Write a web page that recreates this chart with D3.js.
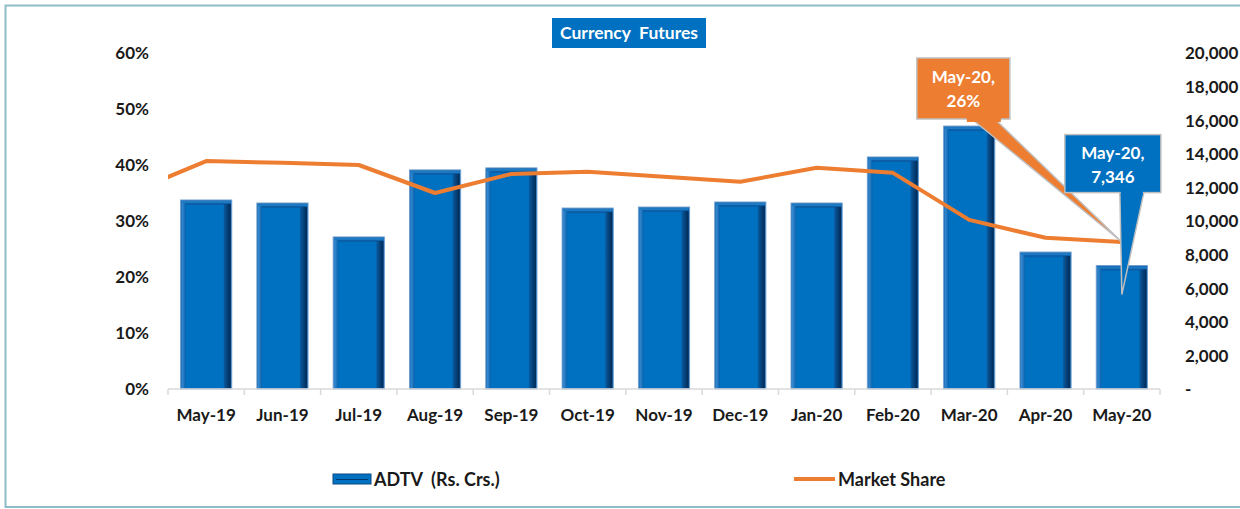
<!DOCTYPE html>
<html>
<head>
<meta charset="utf-8">
<script src="https://cdn.jsdelivr.net/npm/d3@7"></script>
<style>
  html, body { margin: 0; padding: 0; background: #fff; }
  svg { display: block; }
  text { font-family: Lato, "Liberation Sans", sans-serif; font-weight: 700; }
</style>
</head>
<body>
<svg id="chart" width="1240" height="509"></svg>
<script>
// ---- data ----
const categories = ["May-19","Jun-19","Jul-19","Aug-19","Sep-19","Oct-19","Nov-19","Dec-19","Jan-20","Feb-20","Mar-20","Apr-20","May-20"];
const adtv = [11250, 11070, 9050, 13040, 13160, 10770, 10830, 11130, 11070, 13810, 15650, 8150, 7346];
const marketShare = [0.407, 0.404, 0.400, 0.350, 0.384, 0.388, 0.379, 0.370, 0.395, 0.386, 0.302, 0.270, 0.2625];
// previous month (Apr-19) – only its segment into the plot edge is visible
const leadShare = 0.350;
const leftTicks = [0, 0.1, 0.2, 0.3, 0.4, 0.5, 0.6];
const rightTicks = [0, 2000, 4000, 6000, 8000, 10000, 12000, 14000, 16000, 18000, 20000];
const title = "Currency  Futures";
const seriesNames = ["ADTV  (Rs. Crs.)", "Market Share"];
const shareLabel = ["May-20,", "26%"];
const adtvLabel = ["May-20,", "7,346"];

// ---- layout ----
const svg = d3.select("#chart");
const plot = { left: 168, right: 1160, top: 53, bottom: 389 };
const blue = "#0070C0", orange = "#ED7D31";
const fs = 17;

// frame
svg.append("rect").attr("x", 5.5).attr("y", 5.5).attr("width", 1240).attr("height", 501.5)
  .attr("fill", "none").attr("stroke", "#8fbccb").attr("stroke-width", 2);

const x = d3.scaleBand().domain(categories).range([plot.left, plot.right])
  .paddingInner(0.33).paddingOuter(0.165);
const yL = d3.scaleLinear().domain([0, 0.6]).range([plot.bottom, plot.top]);
const yR = d3.scaleLinear().domain([0, 20000]).range([plot.bottom, plot.top]);
const bw = x.bandwidth();
const cx = c => x(c) + bw / 2;

// left axis
const gL = svg.append("g").attr("transform", `translate(${149},0)`)
  .call(d3.axisLeft(yL).tickValues(leftTicks).tickFormat(d3.format(".0%")).tickSize(0).tickPadding(0));
gL.select(".domain").remove();
gL.selectAll("text").attr("font-size", fs).attr("fill", "#1a1a1a").attr("dy", "0.35em");

// right axis
const gR = svg.append("g").attr("transform", `translate(${1185},0)`)
  .call(d3.axisRight(yR).tickValues(rightTicks).tickFormat(d => d === 0 ? "-" : d3.format(",")(d)).tickSize(0).tickPadding(0));
gR.select(".domain").remove();
gR.selectAll("text").attr("font-size", fs).attr("fill", "#1a1a1a").attr("dy", "0.35em");

// bars (bevelled)
const defs = svg.append("defs");
const gradR = defs.append("linearGradient").attr("id", "edgeR").attr("x1", 0).attr("x2", 1);
gradR.append("stop").attr("offset", 0).attr("stop-color", "#0a5aa0");
gradR.append("stop").attr("offset", 1).attr("stop-color", "#012a55");
const gradL = defs.append("linearGradient").attr("id", "edgeL").attr("x1", 0).attr("x2", 1);
gradL.append("stop").attr("offset", 0).attr("stop-color", "#3d8fd6");
gradL.append("stop").attr("offset", 1).attr("stop-color", "#0a63ad");

const bars = svg.append("g").selectAll("g").data(categories).join("g")
  .attr("transform", (c, i) => `translate(${x(c)},${yR(adtv[i])})`);
bars.append("rect").attr("width", bw).attr("height", (c, i) => yR(0) - yR(adtv[i]))
  .attr("fill", "#0b5fa8").attr("stroke", "#6f9fd0").attr("stroke-width", 1);
bars.append("rect").attr("x", 1).attr("y", 1).attr("width", 4)
  .attr("height", (c, i) => Math.max(0, yR(0) - yR(adtv[i]) - 2)).attr("fill", "url(#edgeL)");
bars.append("rect").attr("x", bw - 8).attr("y", 4).attr("width", 7)
  .attr("height", (c, i) => Math.max(0, yR(0) - yR(adtv[i]) - 5)).attr("fill", "url(#edgeR)");
bars.append("rect").attr("x", 5).attr("y", 5).attr("width", bw - 13)
  .attr("height", (c, i) => Math.max(0, yR(0) - yR(adtv[i]) - 6)).attr("fill", blue);
bars.append("rect").attr("x", 1).attr("y", 1).attr("width", bw - 2).attr("height", 2).attr("fill", "#1f7ac4");

// x axis
const gX = svg.append("g").attr("transform", `translate(0,${plot.bottom})`);
gX.append("line").attr("x1", plot.left).attr("x2", plot.right).attr("stroke", "#d9d9d9").attr("stroke-width", 1.5);
const bounds = d3.range(categories.length + 1).map(i => plot.left + i * x.step());
gX.selectAll("line.tick").data(bounds).join("line").attr("class", "tick")
  .attr("x1", d => d).attr("x2", d => d).attr("y1", 0).attr("y2", 6).attr("stroke", "#d9d9d9").attr("stroke-width", 1.5);
gX.selectAll("text").data(categories).join("text")
  .attr("x", c => cx(c)).attr("y", 32).attr("text-anchor", "middle")
  .attr("font-size", fs).attr("fill", "#1a1a1a").text(c => c);

// market share line
defs.append("clipPath").attr("id", "plotClip").append("rect")
  .attr("x", plot.left).attr("y", 0).attr("width", plot.right - plot.left).attr("height", 509);
const linePts = [[cx(categories[0]) - x.step(), yL(leadShare)]]
  .concat(categories.map((c, i) => [cx(c), yL(marketShare[i])]));
svg.append("path").attr("d", d3.line()(linePts)).attr("clip-path", "url(#plotClip)")
  .attr("fill", "none").attr("stroke", orange).attr("stroke-width", 4).attr("stroke-linejoin", "round");

// callouts
const last = categories.length - 1;
const px = cx(categories[last]), py = yL(marketShare[last]);
const barTop = yR(adtv[last]);

// orange callout
const ob = { x0: px - 205, x1: px - 112, y0: py - 184, y1: py - 123 };
svg.append("path")
  .attr("d", `M${ob.x0 + 55},${ob.y1} L${px},${py} L${ob.x0 + 78},${ob.y1} Z`)
  .attr("fill", orange).attr("stroke", "#bfbfbf").attr("stroke-width", 1.5);
svg.append("rect").attr("x", ob.x0).attr("y", ob.y0).attr("width", ob.x1 - ob.x0).attr("height", ob.y1 - ob.y0)
  .attr("fill", orange).attr("stroke", "#bfbfbf").attr("stroke-width", 1.5);
svg.append("rect").attr("x", ob.x0 + 50).attr("y", ob.y1 - 3).attr("width", 34).attr("height", 6).attr("fill", orange);
svg.append("text").attr("x", (ob.x0 + ob.x1) / 2).attr("y", ob.y0 + 25).attr("text-anchor", "middle")
  .attr("font-size", fs).attr("fill", "#fff").text(shareLabel[0]);
svg.append("text").attr("x", (ob.x0 + ob.x1) / 2).attr("y", ob.y0 + 49).attr("text-anchor", "middle")
  .attr("font-size", fs).attr("fill", "#fff").text(shareLabel[1]);

// blue callout
const bb = { x0: px - 57, x1: px + 39, y0: barTop - 131, y1: barTop - 73 };
const tipY = barTop + 29;
svg.append("path")
  .attr("d", `M${px - 2},${bb.y1} L${px},${tipY} L${px + 22},${bb.y1} Z`)
  .attr("fill", blue).attr("stroke", "#bfbfbf").attr("stroke-width", 1.5);
svg.append("rect").attr("x", bb.x0).attr("y", bb.y0).attr("width", bb.x1 - bb.x0).attr("height", bb.y1 - bb.y0)
  .attr("fill", blue).attr("stroke", "#bfbfbf").attr("stroke-width", 1.5);
svg.append("rect").attr("x", px - 1).attr("y", bb.y1 - 3).attr("width", 22).attr("height", 6).attr("fill", blue);
svg.append("text").attr("x", (bb.x0 + bb.x1) / 2).attr("y", bb.y0 + 24).attr("text-anchor", "middle")
  .attr("font-size", fs).attr("fill", "#fff").text(adtvLabel[0]);
svg.append("text").attr("x", (bb.x0 + bb.x1) / 2).attr("y", bb.y0 + 48).attr("text-anchor", "middle")
  .attr("font-size", fs).attr("fill", "#fff").text(adtvLabel[1]);

// title
svg.append("rect").attr("x", 552).attr("y", 18).attr("width", 154).attr("height", 30).attr("fill", blue);
svg.append("text").attr("x", 629).attr("y", 39).attr("text-anchor", "middle")
  .attr("font-size", 17.5).attr("fill", "#fff").style("white-space", "pre").text(title);

// legend
const lg = svg.append("g");
lg.append("rect").attr("x", 333).attr("y", 474).attr("width", 38).attr("height", 10).attr("fill", blue).attr("stroke", "#0a4a85");
lg.append("line").attr("x1", 336).attr("x2", 368).attr("y1", 479.5).attr("y2", 479.5).attr("stroke", "#003a70").attr("stroke-width", 1);
lg.append("text").attr("x", 374).attr("y", 486).attr("font-size", 18).attr("fill", "#1a1a1a")
  .style("white-space", "pre").text(seriesNames[0]);
lg.append("line").attr("x1", 794).attr("x2", 835).attr("y1", 479).attr("y2", 479).attr("stroke", orange).attr("stroke-width", 4);
lg.append("text").attr("x", 838).attr("y", 486).attr("font-size", 18).attr("fill", "#1a1a1a").text(seriesNames[1]);
</script>
</body>
</html>
